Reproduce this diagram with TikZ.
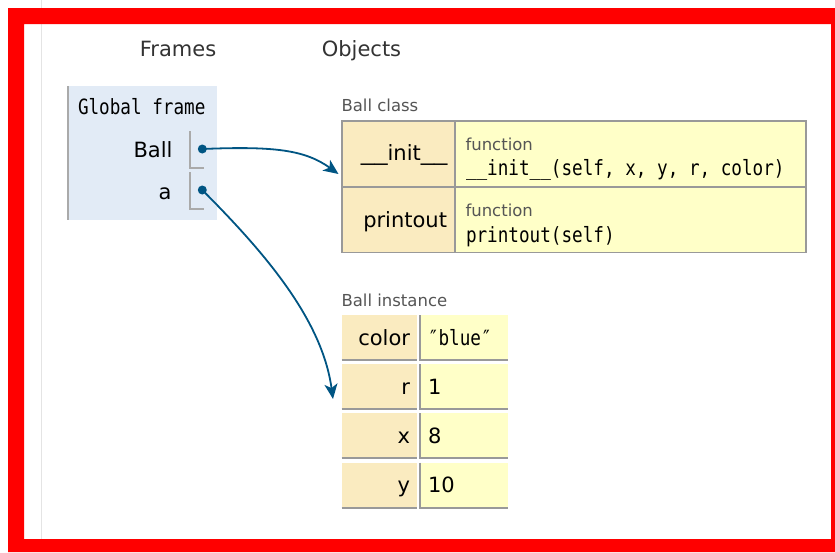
\documentclass[tikz,border=0pt]{standalone}
\usepackage{graphicx}
\usepackage{fontspec}
\setmainfont{DejaVu Sans}
\newfontfamily\codefont{DejaVu Sans Mono}
\usetikzlibrary{arrows.meta}

\definecolor{frameblue}{HTML}{E2EBF6}
\definecolor{keytan}{HTML}{FAEBC0}
\definecolor{valyellow}{HTML}{FFFFC8}
\definecolor{linkblue}{HTML}{005583}
\definecolor{cellline}{HTML}{999999}
\definecolor{ptrgray}{HTML}{AAAAAA}
\definecolor{headgray}{HTML}{333333}
\definecolor{labelgray}{HTML}{555555}
\definecolor{rimred}{HTML}{FF0000}
\definecolor{guidegray}{HTML}{E4E4E4}

% narrow monospaced text
\newcommand\mono[1]{{\codefont\scalebox{0.84}[1]{#1}}}
% wide underscores of the proportional face
\newcommand\wideus{\scalebox{1.27}[1]{\_\_}}

\tikzset{
  txt/.style={inner sep=0pt, outer sep=0pt},
  headtext/.style={txt, font=\fontsize{21}{25}\selectfont, text=headgray},
  nametext/.style={txt, font=\fontsize{21}{25}\selectfont, text=black},
  codetext/.style={txt, font=\fontsize{21}{25}\selectfont, text=black},
  smalllabel/.style={txt, font=\fontsize{16.5}{20}\selectfont, text=labelgray},
  cellbox/.style={rectangle, inner sep=0pt, outer sep=0pt, anchor=north west},
  keycell/.style={cellbox, fill=keytan},
  valcell/.style={cellbox, fill=valyellow},
  ptrdot/.style={circle, fill=linkblue, inner sep=0pt, minimum size=9pt},
  ptrbox/.style={draw=ptrgray, line width=1.3pt},
  link/.style={draw=linkblue, line width=1.8pt,
    -{Stealth[length=15pt, width=13pt, inset=4pt]}},
}

\begin{document}
\begin{tikzpicture}[x=1pt, y=-1pt]
\useasboundingbox (0,0) rectangle (835,552);
\fill[white] (0,0) rectangle (835,552);

% page guide line and red rim
\draw[guidegray, line width=1.2pt] (41.5,0) -- (41.5,552);
\fill[rimred, even odd rule] (8,8) rectangle (835,552) (24,24) rectangle (831,539);

% column headings
\node[headtext, anchor=base] (frameshead) at (178,56.7) {Frames};
\node[headtext, anchor=base] (objhead) at (361.5,56.7) {Objects};

% global frame
\fill[frameblue] (67,86) rectangle (217,220);
\draw[ptrgray, line width=2pt] (68,86) -- (68,220);
\node[codetext, anchor=base west] (globaltitle) at (78,114.3) {\mono{Global frame}};
\node[nametext, anchor=base east] (ballname) at (172.5,157.3) {Ball};
\node[nametext, anchor=base east] (aname) at (171.5,199.3) {a};
\draw[ptrbox] (190,131) -- (190,168) -- (204,168);
\draw[ptrbox] (190,172) -- (190,209) -- (204,209);
\node[ptrdot] (ballptr) at (202.3,149) {};
\node[ptrdot] (aptr) at (202.3,190) {};

% Ball class
\node[smalllabel, anchor=base west] (clscaption) at (341.5,111.5) {Ball class};
\node[keycell, minimum width=114pt, minimum height=66.7pt] (initkey) at (341,120) {};
\node[valcell, minimum width=351.7pt, minimum height=66.7pt] (initval) at (455,120) {};
\node[keycell, minimum width=114pt, minimum height=66.6pt] (printkey) at (341,186.7) {};
\node[valcell, minimum width=351.7pt, minimum height=66.6pt] (printval) at (455,186.7) {};
\draw[cellline, line width=1.8pt] (342,121) rectangle (805.8,252.4);
\draw[cellline, line width=1.8pt] (initkey.south west) -- (initval.south east);
\draw[cellline, line width=1.8pt] (initval.north west) -- (printval.south west);

\node[nametext, anchor=base east] (initname) at (447.5,160.7) {\wideus init\wideus};
\node[nametext, anchor=base east] (printname) at (447,227.7) {printout};
\node[smalllabel, anchor=base west] (initkind) at (465.5,150) {function};
\node[codetext, anchor=base west] (initsig) at (466,175.5) {\mono{\_\_init\_\_(self,\ x,\ y,\ r,\ color)}};
\node[smalllabel, anchor=base west] (printkind) at (465.5,216.7) {function};
\node[codetext, anchor=base west] (printsig) at (466,242.2) {\mono{printout(self)}};

% Ball instance
\node[smalllabel, anchor=base west] (instcaption) at (341.5,306) {Ball instance};
\foreach \row/\key/\val [count=\i from 0] in
    {color/color/\mono{″blue″}, r/r/1, x/x/8, y/y/10} {
  \pgfmathsetmacro{\top}{315+49.2*\i}
  \node[keycell, minimum width=75.7pt, minimum height=46pt] (\row key) at (341.7,\top) {};
  \node[valcell, minimum width=88.7pt, minimum height=46pt] (\row val) at (419,\top) {};
  \draw[cellline, line width=2pt] ([yshift=1pt]\row key.south west) -- ([yshift=1pt]\row key.south east);
  \draw[cellline, line width=2pt] ([yshift=1pt]\row val.south west) -- ([yshift=1pt]\row val.south east);
  \draw[cellline, line width=2pt] ([xshift=1pt]\row val.north west) -- ([xshift=1pt]\row val.south west);
  \node[nametext, anchor=base east] (\row keytext) at (410,\top+30.3) {\key};
  \node[nametext, anchor=base west] (\row valtext) at (428,\top+30.3) {\val};
}

% references
\coordinate (clsentry) at (338.5,174);
\coordinate (instentry) at (333,399);
\draw[link] (ballptr.center) .. controls (275,146) and (305,150) .. (clsentry);
\draw[link] (aptr.center) .. controls (262,250) and (322,318) .. (instentry);
\end{tikzpicture}
\end{document}
